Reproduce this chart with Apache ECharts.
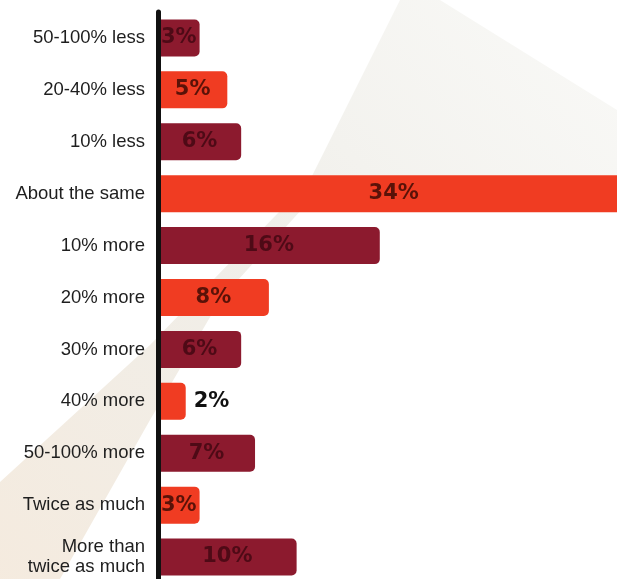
<!DOCTYPE html>
<html>
<head>
<meta charset="utf-8">
<script src="https://cdn.jsdelivr.net/npm/echarts@6/dist/echarts.min.js"></script>
<style>html,body{margin:0;padding:0;background:#fff;overflow:hidden}#c{width:617px;height:579px}</style>
</head>
<body>
<div id="c"></div>
<script>
var categories = ["50-100% less","20-40% less","10% less","About the same","10% more","20% more","30% more","40% more","50-100% more","Twice as much","More than\ntwice as much"];
var values = [3,5,6,34,16,8,6,2,7,3,10];
var outsideLabelCategories = ["40% more"];

var DARK = '#8c1a2e', ORANGE = '#f03c22';
var chart = echarts.init(document.getElementById('c'), null, {renderer:'canvas'});
var data = values.map(function(v, i){
  var dark = i % 2 === 0;
  var outside = outsideLabelCategories.indexOf(categories[i]) >= 0;
  return {
    value: v,
    itemStyle: {color: dark ? DARK : ORANGE},
    label: outside ? {position:'right', distance:8, color:'#111'} : {color: dark ? '#4e0a16' : '#5a1208'}
  };
});
chart.setOption({
  backgroundColor: '#ffffff',
  animation: false,
  graphic: [{
    type: 'polygon', z: -10, silent: true,
    shape: {points: [[0,482],[150,345],[310,180],[400,0],[440,0],[617,110],[617,178],[330,178],[220,300],[150,420],[60,579],[0,579]]},
    style: {fill: new echarts.graphic.LinearGradient(0,1,1,0,[{offset:0,color:'rgba(236,218,196,0.55)'},{offset:0.5,color:'rgba(225,222,212,0.5)'},{offset:1,color:'rgba(238,238,232,0.35)'}])}
  }],
  grid: {left: 158, width: 481, top: 12, height: 571, containLabel: false, outerBoundsMode: 'none'},
  xAxis: {type:'value', min:0, max:34.7, show:false},
  yAxis: {
    type:'category', data: categories, inverse: true, z: 10,
    axisLine: {show:true, lineStyle:{color:'#111', width:5}},
    axisTick: {show:false},
    axisLabel: {margin: 13, fontFamily:'Liberation Sans, Arial, sans-serif', fontSize: 18.5, color:'#1e1e1e', lineHeight: 20, align:'right'}
  },
  series: [{
    type:'bar', data: data, barWidth: 37, clip: true,
    itemStyle: {borderRadius:[0,5,5,0]},
    label: {show:true, position:'inside', formatter:'{c}%', fontFamily:'DejaVu Sans, sans-serif', fontWeight:'bold', fontSize:21}
  }]
});
</script>
</body>
</html>
